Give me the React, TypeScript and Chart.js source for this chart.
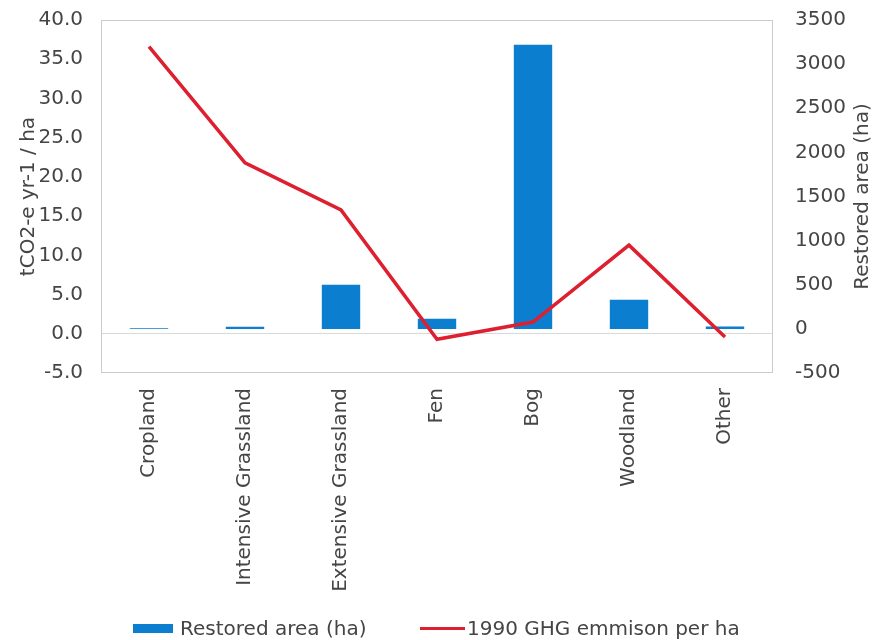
import React, { useEffect, useRef } from "react";
import { Chart, registerables } from "chart.js";

Chart.register(...registerables);

const categories = [
  "Cropland",
  "Intensive Grassland",
  "Extensive Grassland",
  "Fen",
  "Bog",
  "Woodland",
  "Other",
];
const restoredArea = [8, 25, 500, 115, 3220, 330, 28];
const ghgPerHa1990 = [36.6, 21.8, 15.8, -0.7, 1.5, 11.3, -0.4];

const leftAxisRange = [-5, 40, 5];
const rightAxisRange = [-500, 3500, 500];

const barLabel = "Restored area (ha)";
const lineLabel = "1990 GHG emmison per ha";
const leftTitle = "tCO2-e yr-1 / ha";
const rightTitle = "Restored area (ha)";

const FONT = '"DejaVu Sans", "Liberation Sans", Arial, sans-serif';
const TEXT = "#454545";
const BLUE = "#0B7ECF";
const RED = "#DE1F2F";
const FS = 20;

const framePlugin = {
  id: "frame",
  beforeDatasetsDraw(chart: any) {
    const { ctx, chartArea: a } = chart;
    ctx.save();
    ctx.strokeStyle = "#cccccc";
    ctx.lineWidth = 1;
    ctx.strokeRect(a.left + 0.5, a.top + 0.5, a.width - 1, a.height - 1);
    ctx.restore();
  },
  afterDraw(chart: any) {
    const { ctx, chartArea: a } = chart;
    const s = chart.scales.y1;
    ctx.save();
    ctx.translate(s.right - 12, (a.top + a.bottom) / 2);
    ctx.rotate(-Math.PI / 2);
    ctx.font = `${FS}px ${FONT}`;
    ctx.fillStyle = TEXT;
    ctx.textAlign = "center";
    ctx.textBaseline = "middle";
    ctx.fillText(rightTitle, 0, 0);
    ctx.restore();
  },
};

export default function App() {
  const ref = useRef<HTMLCanvasElement>(null);

  useEffect(() => {
    if (!ref.current) return;
    const chart = new Chart(ref.current, {
      type: "bar",
      data: {
        labels: categories,
        datasets: [
          {
            type: "line",
            label: lineLabel,
            data: ghgPerHa1990,
            borderColor: RED,
            backgroundColor: RED,
            borderWidth: 3.5,
            pointRadius: 0,
            tension: 0,
            yAxisID: "y",
            order: 0,
          } as any,
          {
            type: "bar",
            label: barLabel,
            data: restoredArea,
            backgroundColor: BLUE,
            borderWidth: 0,
            categoryPercentage: 0.8,
            barPercentage: 0.5,
            yAxisID: "y1",
            order: 1,
          },
        ],
      },
      options: {
        animation: false,
        responsive: false,
        maintainAspectRatio: false,
        layout: { padding: { top: 20, left: 0, right: 0, bottom: 0 } },
        plugins: {
          legend: { display: false },
          tooltip: { enabled: false },
        },
        scales: {
          x: {
            grid: { display: false, drawTicks: false },
            border: { display: false },
            ticks: {
              minRotation: 90,
              maxRotation: 90,
              padding: 15,
              color: TEXT,
              font: { family: FONT, size: FS },
              autoSkip: false,
            },
            afterFit: (s: any) => {
              s.height = 640 - 373;
            },
          },
          y: {
            position: "left",
            min: leftAxisRange[0],
            max: leftAxisRange[1],
            ticks: {
              stepSize: leftAxisRange[2],
              padding: 18,
              color: TEXT,
              font: { family: FONT, size: FS },
              callback: (v: any) => Number(v).toFixed(1),
            },
            grid: {
              drawTicks: false,
              color: (c: any) => (c.tick && c.tick.value === 0 ? "#d9d9d9" : "rgba(0,0,0,0)"),
            },
            border: { display: false },
            title: {
              display: true,
              text: leftTitle,
              color: TEXT,
              font: { family: FONT, size: FS },
              padding: { top: 17, bottom: 0 },
            },
            afterFit: (s: any) => {
              s.width = 101;
              s.paddingTop = 12;
              s.paddingBottom = 12;
            },
          },
          y1: {
            position: "right",
            min: rightAxisRange[0],
            max: rightAxisRange[1],
            ticks: {
              stepSize: rightAxisRange[2],
              padding: 22,
              color: TEXT,
              font: { family: FONT, size: FS },
              callback: (v: any) => String(v),
            },
            grid: { display: false, drawTicks: false },
            border: { display: false },
            afterFit: (s: any) => {
              s.width = 875 - 773;
              s.paddingTop = 12;
              s.paddingBottom = 12;
            },
          },
        },
      },
      plugins: [framePlugin],
    });
    return () => chart.destroy();
  }, []);

  const textStyle: React.CSSProperties = {
    position: "absolute",
    fontFamily: FONT,
    fontSize: FS,
    color: TEXT,
    lineHeight: "20px",
    top: 618,
    whiteSpace: "nowrap",
  };

  return (
    <div style={{ position: "absolute", left: 0, top: 0, width: 875, height: 640, background: "#fff", overflow: "hidden" }}>
      <canvas ref={ref} width={875} height={640} style={{ display: "block" }} />
      <div style={{ position: "absolute", left: 133, top: 624, width: 40, height: 9, background: BLUE }} />
      <div style={{ ...textStyle, left: 180 }}>{barLabel}</div>
      <div style={{ position: "absolute", left: 420, top: 627, width: 45, height: 3, background: RED }} />
      <div style={{ ...textStyle, left: 467 }}>{lineLabel}</div>
    </div>
  );
}
